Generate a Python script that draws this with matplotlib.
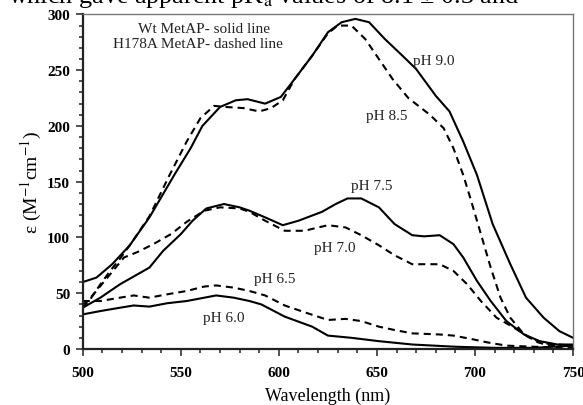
import matplotlib
matplotlib.use("Agg")
import matplotlib.pyplot as plt

plt.rcParams['font.family'] = ['Liberation Serif', 'DejaVu Serif']
plt.rcParams['mathtext.fontset'] = 'stix'

# pH 9.0 (Wt, solid)
wl_90 = [500, 507, 515, 524, 534, 541, 547, 555, 561, 570, 578, 584, 593, 601, 608, 617, 625, 632, 639, 646, 654, 663, 670, 680, 687, 694, 701, 709, 718, 726, 735, 743, 750]
ep_90 = [60, 64, 76, 93, 118, 139, 157, 180, 200, 217, 223, 224, 220, 226, 242, 263, 284, 293, 296, 293, 278, 263, 251, 227, 213, 186, 156, 112, 76, 46, 28, 16, 10]
# pH 8.5 (H178A, dashed)
wl_85 = [500, 504, 509, 514, 519, 524, 534, 544, 553, 560, 567, 573, 582, 590, 596, 602, 608, 617, 625, 630, 637, 644, 651, 658, 666, 677, 684, 689, 694, 698, 703, 708, 713, 718, 725, 732, 738, 750]
ep_85 = [37, 45, 58, 70, 81, 93, 119, 155, 186, 207, 218, 217, 216, 213, 216, 223, 242, 263, 283, 290, 290, 278, 260, 242, 225, 210, 198, 180, 156, 133, 103, 73, 46, 28, 13, 6, 3, 3]
# pH 7.5 (Wt, solid)
wl_75 = [500, 509, 519, 528, 534, 541, 550, 556, 563, 572, 580, 585, 593, 602, 610, 622, 629, 635, 642, 651, 659, 668, 674, 682, 689, 694, 701, 708, 716, 725, 733, 742, 750]
ep_75 = [37, 46, 58, 67, 73, 88, 103, 115, 126, 130, 127, 124, 118, 111, 115, 123, 130, 135, 135, 127, 112, 102, 101, 102, 94, 82, 61, 43, 25, 13, 7, 4, 4]
# pH 7.0 (H178A, dashed)
wl_70 = [500, 505, 514, 521, 528, 536, 545, 553, 562, 570, 580, 585, 593, 603, 613, 625, 634, 642, 651, 659, 668, 675, 682, 689, 696, 703, 711, 720, 728, 735, 750]
ep_70 = [39, 48, 67, 82, 87, 94, 103, 114, 124, 127, 126, 123, 115, 106, 106, 111, 109, 102, 93, 84, 76, 76, 76, 70, 58, 43, 28, 19, 10, 5, 3]
# pH 6.5 (H178A, dashed)
wl_65 = [500, 509, 519, 526, 534, 543, 553, 562, 568, 577, 585, 593, 603, 613, 625, 634, 642, 651, 659, 668, 682, 689, 698, 706, 716, 730, 750]
ep_65 = [43, 43, 46, 48, 46, 49, 52, 56, 57, 55, 52, 48, 39, 33, 26, 27, 25, 20, 17, 14, 13, 12, 9, 6, 3, 2, 1]
# pH 6.0 (Wt, solid)
wl_60 = [500, 509, 519, 526, 534, 543, 553, 562, 568, 577, 585, 591, 603, 617, 625, 637, 651, 668, 690, 710, 730, 750]
ep_60 = [31, 34, 37, 39, 38, 41, 43, 46, 48, 46, 43, 40, 29, 20, 12, 10, 7, 4, 2, 1, 1, 3]

curve_labels = ["pH 9.0", "pH 8.5", "pH 7.5", "pH 7.0", "pH 6.5", "pH 6.0"]
label_x = [679, 655, 647.5, 628.7, 598, 572]
label_y = [259, 209, 146.7, 91.3, 63.5, 28.5]

legend_lines = ["Wt MetAP- solid line", "H178A MetAP- dashed line"]
header = "which gave apparent pK$_{\\mathrm{a}}$ values of 8.1 ± 0.3 and"

fig = plt.figure(figsize=(5.83, 4.06), dpi=100)
ax = fig.add_axes([0.1419, 0.138, 0.983 - 0.1419, 0.962 - 0.138])

lw = 1.5
dash = (0, (3.4, 2.4))
ax.plot(wl_90, ep_90, color='black', lw=lw)
ax.plot(wl_85, ep_85, color='black', lw=lw, linestyle=dash)
ax.plot(wl_75, ep_75, color='black', lw=lw)
ax.plot(wl_70, ep_70, color='black', lw=lw, linestyle=dash)
ax.plot(wl_65, ep_65, color='black', lw=lw, linestyle=dash)
ax.plot(wl_60, ep_60, color='black', lw=lw)

for t, x, y in zip(curve_labels, label_x, label_y):
    ax.text(x, y, t, fontsize=11, ha='center', va='center', color='#222222')

ax.text(561.8, 287.4, legend_lines[0], fontsize=11, ha='center', va='center', color='#222222')
ax.text(558.5, 274, legend_lines[1], fontsize=11, ha='center', va='center', color='#222222')

ax.set_xlim(500, 750)
ax.set_ylim(0, 300)
ax.set_xticks([500, 550, 600, 650, 700, 750])
ax.set_yticks([0, 50, 100, 150, 200, 250, 300])
ax.set_xticks(range(500, 751, 10), minor=True)
ax.set_yticks(range(0, 301, 10), minor=True)
ax.tick_params(which='both', direction='out', top=False, right=False, width=1.2, color='#333333')
ax.tick_params(which='major', length=5, labelsize=11)
ax.tick_params(axis='x', which='major', pad=7)
ax.tick_params(axis='y', which='major', pad=4)
ax.tick_params(which='minor', length=3)
for lab in ax.get_xticklabels() + ax.get_yticklabels():
    lab.set_fontweight('bold')

for s in ['left', 'bottom']:
    ax.spines[s].set_linewidth(1.6)
    ax.spines[s].set_color('#222222')
for s in ['top', 'right']:
    ax.spines[s].set_linewidth(1.0)
    ax.spines[s].set_color('#777777')

ax.set_xlabel("Wavelength (nm)", fontsize=13, labelpad=6)
ax.set_ylabel("ε (M$^{-1}$cm$^{-1}$)", fontsize=14, labelpad=2)

fig.text(8 / 583, 1 - 3.5 / 406, header, fontsize=18.8, ha='left', va='baseline', color='black')

fig.savefig("out.png", dpi=100)
